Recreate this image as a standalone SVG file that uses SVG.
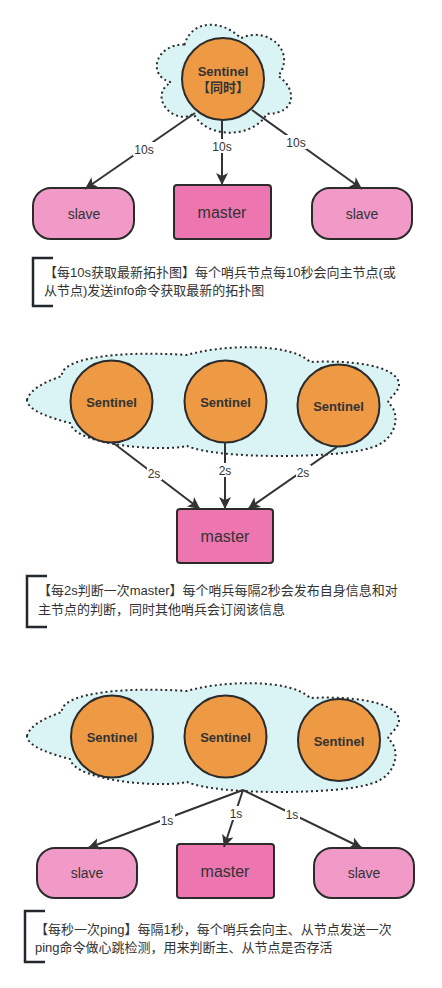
<svg xmlns="http://www.w3.org/2000/svg" width="442" height="988" viewBox="0 0 442 988">
<style>
.cloud{fill:#DAF4F5;stroke:#2b2b2b;stroke-width:2;stroke-dasharray:2 3}
.sent{fill:#EE9944;stroke:#2b2b2b;stroke-width:2}
.sent-t{font-family:"Liberation Sans","Noto Sans CJK SC",sans-serif;font-size:13px;font-weight:bold;fill:#333;text-anchor:middle}
.slave{fill:#F29AC7;stroke:#2b2b2b;stroke-width:2}
.master{fill:#ED76B1;stroke:#2b2b2b;stroke-width:2}
.slave-t{font-family:"Liberation Sans",sans-serif;font-size:14px;fill:#333;text-anchor:middle}
.master-t{font-family:"Liberation Sans",sans-serif;font-size:16px;fill:#333;text-anchor:middle}
.edge{stroke:#333;stroke-width:2;fill:none;marker-end:url(#arr)}
.lbl-bg{fill:#fff}
.lbl{font-family:"Liberation Sans",sans-serif;font-size:12px;fill:#333;text-anchor:middle}
.brk{fill:none;stroke:#23272e;stroke-width:2.5}
.note{font-family:"Liberation Sans","Noto Sans CJK SC",sans-serif;font-size:13px;fill:#333}
</style>
<defs>
<marker id="arr" markerUnits="userSpaceOnUse" markerWidth="12" markerHeight="12" viewBox="0 0 12 12" refX="12" refY="6" orient="auto">
<path d="M0,0 L12,6 L0,12 L3,6 Z" fill="#333"/>
</marker>
<path id="wideCloud" d="M 27 400 C 30 388, 50 380, 62 376 C 60 360, 110 350, 187 355 C 220 345, 290 342, 310 362 C 350 360, 395 365, 399 383 C 400 392, 388 398, 388 403 C 400 410, 400 440, 370 448 C 340 458, 220 460, 187 446 C 160 452, 75 445, 70 423 C 50 418, 27 410, 27 400 Z"/>
</defs>

<!-- Section 1 -->
<g id="cloud1">
<path class="cloud" d="M 184.5 44.5 C 154.5 44.5, 147 76, 171 82.3 C 147 96.2, 174 126.4, 193.5 113.8 C 207 139, 252 139, 267 113.8 C 297 113.8, 297 88.6, 278.25 76 C 297 50.8, 267 25.6, 240.75 38.2 C 222 19.3, 192 19.3, 184.5 44.5 Z"/>
</g>
<g id="sentinel1">
<circle class="sent" cx="223" cy="79" r="41"/>
<text class="sent-t" x="223" y="76">Sentinel</text>
<text class="sent-t" x="223" y="92">【同时】</text>
</g>
<g id="slave1a">
<rect class="slave" x="33" y="188" width="101" height="51" rx="18"/>
<text class="slave-t" x="84" y="219">slave</text>
</g>
<g id="master1">
<rect class="master" x="174" y="185" width="97" height="54" rx="3"/>
<text class="master-t" x="222" y="218">master</text>
</g>
<g id="slave1b">
<rect class="slave" x="312" y="188" width="100" height="51" rx="18"/>
<text class="slave-t" x="362" y="219">slave</text>
</g>

<!-- Section 2 -->
<g id="cloud2"><use href="#wideCloud" class="cloud"/></g>
<g id="sentinel2a">
<circle class="sent" cx="111.5" cy="401.5" r="41"/>
<text class="sent-t" x="111.5" y="406.5">Sentinel</text>
</g>
<g id="sentinel2b">
<circle class="sent" cx="225.5" cy="401.5" r="41"/>
<text class="sent-t" x="225.5" y="406.5">Sentinel</text>
</g>
<g id="sentinel2c">
<circle class="sent" cx="338.5" cy="405.5" r="41"/>
<text class="sent-t" x="338.5" y="411">Sentinel</text>
</g>
<g id="master2">
<rect class="master" x="177" y="509" width="96" height="54" rx="3"/>
<text class="master-t" x="225" y="542">master</text>
</g>

<!-- Section 3 -->
<g id="cloud3"><use href="#wideCloud" class="cloud" transform="translate(0,336)"/></g>
<g id="sentinel3a">
<circle class="sent" cx="112" cy="736.5" r="41"/>
<text class="sent-t" x="112" y="741.5">Sentinel</text>
</g>
<g id="sentinel3b">
<circle class="sent" cx="225.5" cy="736.5" r="41"/>
<text class="sent-t" x="225.5" y="741.5">Sentinel</text>
</g>
<g id="sentinel3c">
<circle class="sent" cx="339" cy="740" r="41"/>
<text class="sent-t" x="339" y="745.5">Sentinel</text>
</g>
<g id="slave3a">
<rect class="slave" x="37" y="848" width="100" height="50" rx="18"/>
<text class="slave-t" x="87" y="878">slave</text>
</g>
<g id="master3">
<rect class="master" x="177" y="844" width="97" height="54" rx="3"/>
<text class="master-t" x="225" y="877">master</text>
</g>
<g id="slave3b">
<rect class="slave" x="314" y="848" width="100" height="50" rx="18"/>
<text class="slave-t" x="364" y="878">slave</text>
</g>

<!-- Connectors -->
<g id="connectors">
<line class="edge" x1="195" y1="113" x2="85" y2="189"/>
<line class="edge" x1="222" y1="120" x2="222" y2="185"/>
<line class="edge" x1="252" y1="110" x2="362" y2="189"/>
<line class="edge" x1="112" y1="442" x2="200" y2="509"/>
<line class="edge" x1="225" y1="442" x2="225" y2="509"/>
<line class="edge" x1="337" y1="447" x2="248" y2="509"/>
<line class="edge" x1="243" y1="790" x2="88" y2="848"/>
<line class="edge" x1="243" y1="790" x2="224" y2="847"/>
<line class="edge" x1="243" y1="790" x2="362" y2="848"/>
<rect class="lbl-bg" x="133" y="142" width="22" height="14"/>
<text class="lbl" x="144" y="153.5">10s</text>
<rect class="lbl-bg" x="211" y="139" width="22" height="14"/>
<text class="lbl" x="222" y="150.5">10s</text>
<rect class="lbl-bg" x="285" y="135" width="22" height="14"/>
<text class="lbl" x="296" y="146.5">10s</text>
<rect class="lbl-bg" x="147" y="466" width="15" height="14"/>
<text class="lbl" x="154" y="477.5">2s</text>
<rect class="lbl-bg" x="218" y="463" width="15" height="14"/>
<text class="lbl" x="225" y="474.5">2s</text>
<rect class="lbl-bg" x="296" y="465" width="15" height="14"/>
<text class="lbl" x="303" y="476.5">2s</text>
<rect class="lbl-bg" x="160" y="813" width="15" height="14"/>
<text class="lbl" x="167" y="824.5">1s</text>
<rect class="lbl-bg" x="229" y="806" width="15" height="14"/>
<text class="lbl" x="236" y="817.5">1s</text>
<rect class="lbl-bg" x="285" y="807" width="15" height="14"/>
<text class="lbl" x="292" y="818.5">1s</text>
</g>

<!-- Annotations -->
<g id="note1">
<path class="brk" d="M53 258 H33 V306 H53"/>
<text class="note" x="44" y="277">【每10s获取最新拓扑图】每个哨兵节点每10秒会向主节点(或</text>
<text class="note" x="44" y="295">从节点)发送info命令获取最新的拓扑图</text>
</g>
<g id="note2">
<path class="brk" d="M47 576 H27 V627 H47"/>
<text class="note" x="38" y="595">【每2s判断一次master】每个哨兵每隔2秒会发布自身信息和对</text>
<text class="note" x="38" y="614">主节点的判断，同时其他哨兵会订阅该信息</text>
</g>
<g id="note3">
<path class="brk" d="M45 911 H25 V962 H45"/>
<text class="note" x="35" y="934">【每秒一次ping】每隔1秒，每个哨兵会向主、从节点发送一次</text>
<text class="note" x="35" y="952">ping命令做心跳检测，用来判断主、从节点是否存活</text>
</g>
</svg>
